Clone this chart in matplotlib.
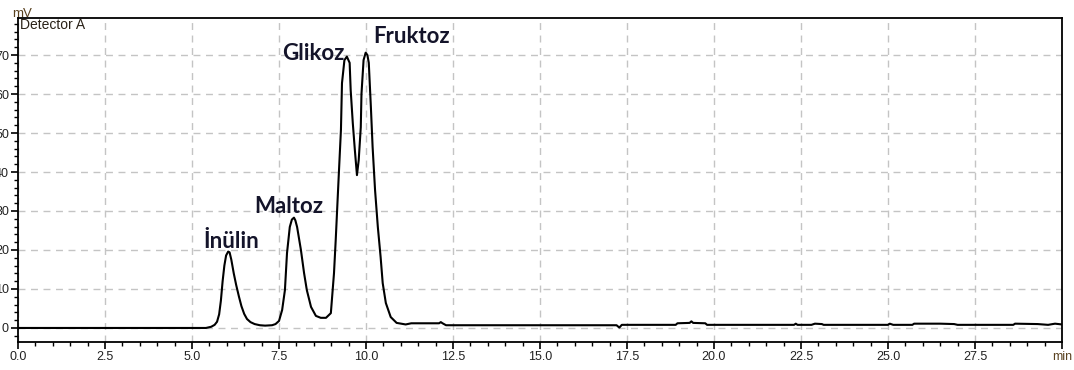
import matplotlib
matplotlib.use("Agg")
import matplotlib.pyplot as plt
from matplotlib.ticker import MultipleLocator, FuncFormatter

# Chromatogram trace (time in min, signal in mV)
time_min = [
    0.00, 5.40, 5.55, 5.65, 5.72, 5.78, 5.83, 5.88, 5.93, 5.98, 6.04, 6.08,
    6.13, 6.20, 6.27, 6.35, 6.42, 6.50, 6.58, 6.68, 6.80, 6.95, 7.10, 7.30,
    7.40, 7.50, 7.59, 7.67, 7.73, 7.81, 7.87, 7.93, 7.97, 8.02, 8.13, 8.22,
    8.30, 8.42, 8.56, 8.70, 8.85, 8.99, 9.08, 9.13, 9.22, 9.28, 9.31, 9.38,
    9.45, 9.53, 9.56, 9.62, 9.68, 9.74, 9.79, 9.85, 9.87, 9.93, 9.99, 10.04,
    10.08, 10.14, 10.19, 10.26, 10.34, 10.42, 10.48, 10.57, 10.71, 10.88,
    11.14, 11.30, 12.10, 12.15, 12.20, 12.30, 17.20, 17.28, 17.35, 18.90,
    18.95, 19.30, 19.35, 19.40, 19.75, 19.80, 22.30, 22.35, 22.40, 22.80,
    22.90, 23.10, 23.15, 25.00, 25.05, 25.15, 25.70, 25.75, 26.00, 26.50,
    26.90, 27.00, 28.60, 28.65, 29.30, 29.60, 29.80, 30.00,
]
signal_mv = [
    0.0, 0.0, 0.3, 0.8, 1.6, 3.5, 7.0, 12.0, 16.0, 18.6, 19.6, 19.4,
    17.5, 14.0, 11.0, 8.0, 5.6, 3.6, 2.3, 1.5, 1.0, 0.7, 0.6, 0.7,
    1.0, 1.8, 4.6, 9.7, 19.2, 25.9, 27.8, 28.3, 27.6, 25.9, 20.0, 14.1,
    9.7, 5.4, 3.1, 2.6, 2.6, 3.8, 14.0, 22.6, 39.7, 50.8, 62.8, 68.7,
    69.6, 68.0, 61.0, 52.6, 45.6, 39.2, 43.0, 51.5, 60.0, 68.7, 70.6, 70.0,
    68.0, 56.7, 46.4, 35.4, 25.9, 18.2, 11.5, 6.4, 2.8, 1.3,
    0.9, 1.2, 1.2, 1.5, 1.2, 0.7, 0.7, 0.1, 0.8, 0.8,
    1.2, 1.3, 1.7, 1.3, 1.2, 0.8, 0.8, 1.1, 0.8, 0.8,
    1.1, 1.0, 0.8, 0.8, 1.1, 0.8, 0.8, 1.1, 1.1, 1.1,
    1.0, 0.8, 0.8, 1.1, 1.0, 0.8, 1.1, 0.9,
]

peak_names = ["İnülin", "Maltoz", "Glikoz", "Fruktoz"]
label_x = [6.12, 7.79, 8.50, 11.30]
label_y = [20.5, 29.5, 68.7, 73.0]

W, H = 1074, 370
fig = plt.figure(figsize=(W / 100, H / 100), dpi=100)
ax = fig.add_axes([18 / W, 1 - 342 / H, (1062 - 18) / W, (342 - 18) / H])

ax.plot(time_min, signal_mv, color="black", lw=1.5, zorder=3)

ax.set_xlim(0, 30)
ax.set_ylim(-3.6, 79.5)

ax.xaxis.set_major_locator(MultipleLocator(2.5))
ax.xaxis.set_minor_locator(MultipleLocator(0.5))
ax.yaxis.set_major_locator(MultipleLocator(10))
ax.yaxis.set_minor_locator(MultipleLocator(2))


def xfmt(v, pos):
    if abs(v - 30) < 1e-6:
        return "min"
    return f"{v:.1f}"


ax.xaxis.set_major_formatter(FuncFormatter(xfmt))
ax.yaxis.set_major_formatter(FuncFormatter(lambda v, p: f"{int(round(v))}"))

ax.tick_params(axis="both", which="major", direction="out", length=5, width=1.2,
               labelsize=9, pad=1.5, colors="black", labelcolor="#222222")
ax.tick_params(axis="both", which="minor", direction="out", length=3, width=1.0)

for lab in ax.get_xticklabels() + ax.get_yticklabels():
    lab.set_family("Liberation Sans")
for lab in ax.get_xticklabels():
    if lab.get_text() == "min":
        lab.set_color("#5a4220")

ax.grid(True, which="major", linestyle=(0, (5, 4)), color="#c4c4c4", lw=1.0, zorder=0)
for sp in ax.spines.values():
    sp.set_linewidth(1.3)
    sp.set_color("black")

for name, x, y in zip(peak_names, label_x, label_y):
    ax.text(x, y, name, ha="center", va="baseline", fontsize=16,
            fontweight="bold", family="Lato", color="#14142a", zorder=4)

fig.text(12 / W, 1 - 17 / H, "mV", fontsize=9.5, family="Liberation Sans",
         color="#5a4220", va="baseline", ha="left")
ax.text(20 / W, 1 - 29 / H, "Detector A", transform=fig.transFigure, fontsize=10,
        family="Liberation Sans", color="#2a2218", va="baseline", ha="left", zorder=5)

fig.savefig("out.png", dpi=100)
